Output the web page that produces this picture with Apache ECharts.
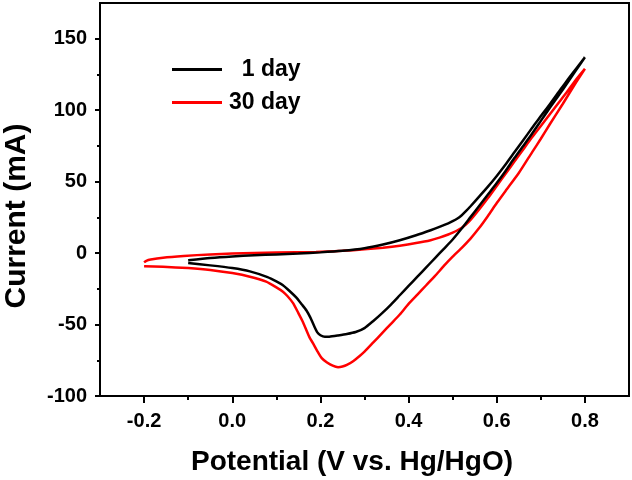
<!DOCTYPE html>
<html>
<head>
<meta charset="utf-8">
<script src="https://cdn.jsdelivr.net/npm/echarts@6/dist/echarts.min.js"></script>
<style>
html,body{margin:0;padding:0;background:#fff;}
#chart{width:632px;height:480px;}
</style>
</head>
<body>
<div id="chart"></div>
<script>
// ---- data ----
const seriesNames = ['1 day', '30 day'];
const day1Potential = [
  -0.100, -0.050, 0.000, 0.050, 0.100, 0.150, 0.200, 0.250, 0.300, 0.342, 0.380, 0.417, 0.450, 0.470, 0.490, 0.500, 0.510, 0.520, 0.530, 0.540, 0.560, 0.580, 0.600, 0.620, 0.640, 0.660, 0.680, 0.700, 0.720, 0.740, 0.760, 0.780, 0.800,
  0.780, 0.750, 0.720, 0.700, 0.680, 0.660, 0.640, 0.620, 0.600, 0.580, 0.560, 0.540, 0.520, 0.500, 0.480, 0.460, 0.440, 0.420, 0.400, 0.380, 0.360, 0.340, 0.320, 0.300, 0.280, 0.260, 0.240, 0.220, 0.210, 0.200, 0.193, 0.185, 0.177, 0.168, 0.158, 0.145, 0.130, 0.115, 0.100, 0.080, 0.040, 0.000, -0.050, -0.100
];
const day1Current = [
  -5.0, -3.4, -2.3, -1.5, -0.9, -0.3, 0.5, 1.6, 3.4, 6.0, 9.0, 12.5, 16.0, 18.3, 20.8, 22.3, 24.0, 26.3, 29.3, 32.6, 39.5, 46.5, 54.0, 62.0, 70.5, 79.0, 87.5, 96.0, 104.0, 112.5, 121.0, 129.0, 137.0,
  128.0, 114.5, 101.5, 92.5, 83.5, 75.0, 66.5, 57.5, 49.0, 41.0, 33.0, 25.0, 17.0, 9.5, 3.0, -3.5, -10.0, -16.5, -23.0, -29.5, -36.0, -42.0, -47.5, -52.5, -55.2, -56.6, -57.6, -58.5, -58.6, -57.5, -55.5, -50.5, -45.0, -40.0, -36.0, -31.0, -26.5, -22.5, -19.8, -16.8, -12.8, -10.5, -8.6, -7.0
];
const day30Potential = [
  -0.200, -0.195, -0.185, -0.157, -0.110, -0.050, 0.000, 0.050, 0.100, 0.190, 0.250, 0.300, 0.342, 0.380, 0.417, 0.450, 0.470, 0.490, 0.500, 0.510, 0.520, 0.530, 0.540, 0.560, 0.580, 0.600, 0.620, 0.640, 0.660, 0.680, 0.700, 0.720, 0.740, 0.760, 0.780, 0.800,
  0.780, 0.750, 0.720, 0.700, 0.680, 0.650, 0.620, 0.600, 0.580, 0.560, 0.540, 0.520, 0.500, 0.480, 0.460, 0.440, 0.420, 0.400, 0.380, 0.360, 0.340, 0.320, 0.300, 0.289, 0.275, 0.260, 0.250, 0.240, 0.228, 0.215, 0.203, 0.192, 0.183, 0.175, 0.160, 0.150, 0.138, 0.125, 0.115, 0.100, 0.077, 0.040, 0.000, -0.050, -0.100, -0.157, -0.200
];
const day30Current = [
  -6.5, -5.4, -4.5, -3.2, -2.0, -0.9, -0.3, 0.1, 0.4, 0.8, 1.6, 2.6, 3.8, 5.2, 7.0, 9.0, 10.8, 13.0, 14.3, 15.8, 17.6, 20.0, 23.0, 30.5, 38.5, 47.0, 55.5, 64.0, 72.5, 81.0, 89.0, 97.0, 105.0, 113.0, 121.5, 129.0,
  119.5, 104.5, 90.0, 80.0, 70.5, 56.0, 43.5, 35.0, 26.0, 17.5, 10.0, 3.5, -2.5, -9.0, -16.0, -22.5, -29.0, -35.5, -43.0, -49.5, -56.0, -62.5, -69.0, -72.0, -75.5, -78.3, -79.4, -79.8, -78.8, -76.5, -73.5, -68.0, -63.0, -58.8, -48.0, -42.0, -35.0, -30.0, -27.0, -24.0, -20.0, -16.5, -14.0, -11.8, -10.5, -9.6, -9.2
];
const xMajorTicks = [-0.2, 0.0, 0.2, 0.4, 0.6, 0.8];
const xMinorTicks = [-0.1, 0.1, 0.3, 0.5, 0.7];
const yMajorTicks = [-100, -50, 0, 50, 100, 150];
const yMinorTicks = [-75, -25, 25, 75, 125];
const xRange = [-0.3, 0.9];
const yRange = [-100, 175];
const xTitle = 'Potential (V vs. Hg/HgO)';
const yTitle = 'Current (mA)';

// ---- build ----
const zip = (a, b) => a.map((v, i) => [v, b[i]]);
const FONT = 'Arial, "Liberation Sans", sans-serif';
const chart = echarts.init(document.getElementById('chart'), null, {renderer: 'canvas'});

const baseX = {
  type: 'value', min: xRange[0], max: xRange[1], position: 'bottom',
  splitLine: {show: false},
};
const baseY = {
  type: 'value', min: yRange[0], max: yRange[1], position: 'left',
  splitLine: {show: false},
};

chart.setOption({
  animation: false,
  backgroundColor: '#fff',
  grid: {left: 100, right: 3, top: 3, bottom: 84, show: true, borderColor: '#000', borderWidth: 2,
    containLabel: false, outerBoundsMode: 'none'},
  legend: {
    orient: 'vertical', left: 167, top: 53, itemWidth: 50, itemHeight: 3, itemGap: 10, icon: 'rect',
    data: seriesNames,
    formatter: n => n === '1 day' ? '  1 day' : n,
    textStyle: {fontFamily: FONT, fontWeight: 'bold', fontSize: 23, color: '#000', lineHeight: 22, padding: [0, 0, 0, 2]},
  },
  xAxis: [
    Object.assign({}, baseX, {
      interval: 0.1,
      axisLine: {show: true, onZero: false, lineStyle: {color: '#000', width: 2}},
      axisTick: {show: true, inside: false, length: 7, lineStyle: {color: '#000', width: 2}, customValues: xMajorTicks},
      axisLabel: {show: true, margin: 15, fontFamily: FONT, fontWeight: 'bold', fontSize: 20, color: '#000',
        customValues: xMajorTicks, formatter: v => v.toFixed(1)},
      name: xTitle, nameLocation: 'middle', nameGap: 52,
      nameTextStyle: {fontFamily: FONT, fontWeight: 'bold', fontSize: 28, color: '#000', padding: [0, 25, 0, 0]},
    }),
    Object.assign({}, baseX, {
      interval: 0.1,
      axisLine: {show: false, onZero: false},
      axisTick: {show: true, inside: false, length: 4, lineStyle: {color: '#000', width: 2}, customValues: xMinorTicks},
      axisLabel: {show: false},
    }),
  ],
  yAxis: [
    Object.assign({}, baseY, {
      interval: 50,
      axisLine: {show: true, onZero: false, lineStyle: {color: '#000', width: 2}},
      axisTick: {show: true, inside: false, length: 5, lineStyle: {color: '#000', width: 2}, customValues: yMajorTicks},
      axisLabel: {show: true, margin: 13, fontFamily: FONT, fontWeight: 'bold', fontSize: 20, color: '#000',
        customValues: yMajorTicks},
      name: yTitle, nameLocation: 'middle', nameGap: 68,
      nameTextStyle: {fontFamily: FONT, fontWeight: 'bold', fontSize: 30, color: '#000', padding: [0, 33, 0, 0]},
    }),
    Object.assign({}, baseY, {
      interval: 50,
      axisLine: {show: false, onZero: false},
      axisTick: {show: true, inside: false, length: 3, lineStyle: {color: '#000', width: 2}, customValues: yMinorTicks},
      axisLabel: {show: false},
    }),
  ],
  series: [
    {name: seriesNames[0], type: 'line', data: zip(day1Potential, day1Current), symbol: 'none', smooth: 0.2,
      lineStyle: {color: '#000', width: 2.5}, itemStyle: {color: '#000'}, z: 3},
    {name: seriesNames[1], type: 'line', data: zip(day30Potential, day30Current), symbol: 'none', smooth: 0.2,
      lineStyle: {color: '#ff0000', width: 2.5}, itemStyle: {color: '#ff0000'}, z: 2},
  ],
});
</script>
</body>
</html>
